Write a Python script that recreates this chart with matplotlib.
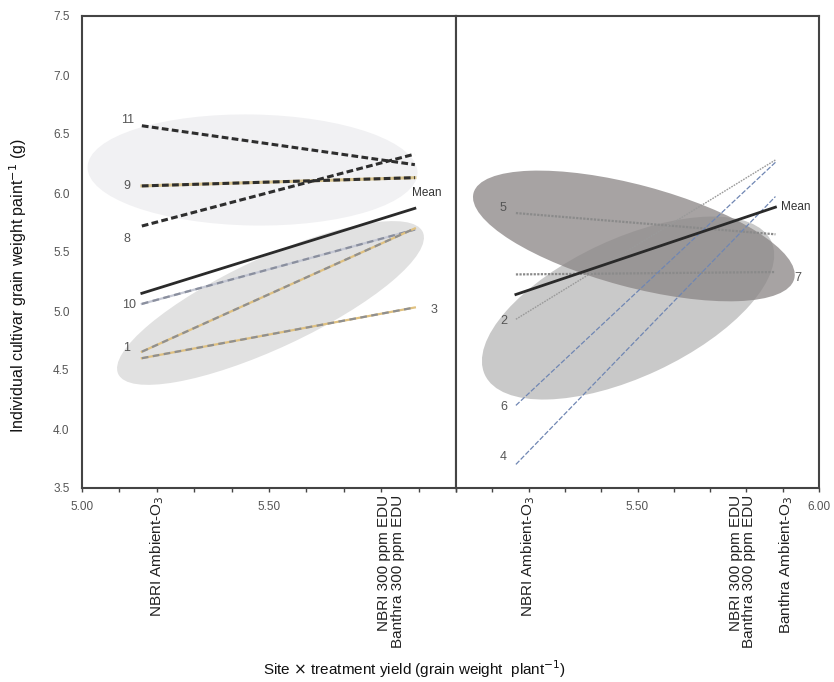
import matplotlib
matplotlib.use("Agg")
import matplotlib.pyplot as plt
import matplotlib.transforms as mtransforms
from matplotlib.patches import Ellipse
from matplotlib.ticker import MultipleLocator, FixedLocator, FixedFormatter

plt.rcParams['font.family'] = ['Liberation Sans', 'DejaVu Sans']

# x positions of the two treatment endpoints (site x treatment yield)
left_x = [5.16, 5.89]
right_x = [5.165, 5.88]

# left panel cultivars (ambient -> EDU)
left_c11 = [6.57, 6.24]
left_c9 = [6.06, 6.13]
left_c8 = [5.72, 6.33]
left_c10 = [5.06, 5.69]
left_c1 = [4.655, 5.70]
left_c3 = [4.60, 5.03]
left_mean = [5.15, 5.87]

# right panel cultivars
right_c5 = [5.83, 5.65]
right_c7 = [5.31, 5.33]
right_c2 = [4.93, 6.28]
right_c6 = [4.20, 6.26]
right_c4 = [3.70, 5.97]
right_mean = [5.14, 5.88]

y_ticks = [3.5, 4.0, 4.5, 5.0, 5.5, 6.0, 6.5, 7.0, 7.5]

left_cats = [5.20, 5.826]
left_cat_labels = ["NBRI Ambient-O$_3$", "NBRI 300 ppm EDU\nBanthra 300 ppm EDU"]
right_cats = [5.20, 5.79, 5.91]
right_cat_labels = ["NBRI Ambient-O$_3$", "NBRI 300 ppm EDU\nBanthra 300 ppm EDU",
                    "Banthra Ambient-O$_3$"]

fig = plt.figure(figsize=(8.34, 6.82), dpi=100)
ax1 = fig.add_axes([82/834, 1-488/682, 374/834, 472/682])
ax2 = fig.add_axes([456/834, 1-488/682, 363/834, 472/682])

spine_col = '#444444'
for ax in (ax1, ax2):
    ax.set_xlim(5.0, 6.0)
    ax.set_ylim(3.5, 7.5)
    for s in ax.spines.values():
        s.set_color(spine_col)
        s.set_linewidth(1.5)
    ax.xaxis.set_minor_locator(MultipleLocator(0.1))
    ax.tick_params(axis='x', which='both', direction='out', length=3, width=1,
                   color=spine_col, labelsize=8.5, labelcolor='#555555', pad=6)

ax1.xaxis.set_major_locator(FixedLocator([5.0, 5.5]))
ax1.xaxis.set_major_formatter(FixedFormatter(["5.00", "5.50"]))
ax2.xaxis.set_major_locator(FixedLocator([5.5, 6.0]))
ax2.xaxis.set_major_formatter(FixedFormatter(["5.50", "6.00"]))

ax1.set_yticks(y_ticks)
ax1.set_yticklabels([f"{v:.1f}" for v in y_ticks])
ax1.tick_params(axis='y', length=0, labelsize=8.5, labelcolor='#555555', pad=9)
ax2.set_yticks([])


def ellipse(ax, cx, cy, w_px, h_px, angle, color, alpha=1.0):
    # size in screen pixels, centred on a data point
    tr = fig.dpi_scale_trans + mtransforms.ScaledTranslation(cx, cy, ax.transData)
    e = Ellipse((0, 0), w_px / 100, h_px / 100, angle=angle, transform=tr,
                facecolor=color, edgecolor='none', alpha=alpha, zorder=1)
    ax.add_patch(e)


# shaded groups
ellipse(ax1, 5.456, 6.195, 330, 111, -1, '#f1f1f3')
ellipse(ax1, 5.504, 5.068, 336, 90, 25, '#e1e1e1')
ellipse(ax2, 5.474, 5.025, 316, 138, 25, '#c9c9c9')
ellipse(ax2, 5.49, 5.636, 332, 102, -15, '#8b8686', alpha=0.76)

# left panel lines
dash_dark = (0, (2.2, 1.1))
ax1.plot(left_x, left_c11, color='#2e2e2e', lw=2.2, ls=dash_dark, zorder=3)
ax1.plot(left_x, left_c9, color='#d8c38c', lw=2.2, zorder=3)
ax1.plot(left_x, left_c9, color='#2e2e2e', lw=2.2, ls=dash_dark, zorder=3)
ax1.plot(left_x, left_c8, color='#2e2e2e', lw=2.2, ls=dash_dark, zorder=3)
ax1.plot(left_x, left_c10, color='#c4c7d3', lw=1.6, zorder=3)
ax1.plot(left_x, left_c10, color='#8a8f9e', lw=1.6, ls=(0, (3, 2)), zorder=3)
for ys in (left_c1, left_c3):
    ax1.plot(left_x, ys, color='#e0c180', lw=1.6, zorder=3)
    ax1.plot(left_x, ys, color='#8f8f8f', lw=1.6, ls=(0, (3, 2)), zorder=3)
ax1.plot(left_x, left_mean, color='#2a2a2a', lw=2, zorder=4)

lab_kw = dict(textcoords='offset points', fontsize=9, color='#555555', va='center',
              ha='center')
ax1.annotate("11", (left_x[0], left_c11[0]), xytext=(-10, 4), **lab_kw)
ax1.annotate("9", (left_x[0], left_c9[0]), xytext=(-11, 0), **lab_kw)
ax1.annotate("8", (left_x[0], left_c8[0]), xytext=(-11, -9), **lab_kw)
ax1.annotate("10", (left_x[0], left_c10[0]), xytext=(-9, -1), **lab_kw)
ax1.annotate("1", (left_x[0], left_c1[0]), xytext=(-11, 3), **lab_kw)
ax1.annotate("3", (left_x[1], left_c3[1]), xytext=(14, -2), **lab_kw)
ax1.annotate("Mean", (left_x[1], left_mean[1]), xytext=(-2, 11), ha='left',
             textcoords='offset points', fontsize=8.5, color='#333333', va='center')

# right panel lines
ax2.plot(right_x, right_c5, color='#8a8a8a', lw=1.6, ls=(0, (1, 0.6)), zorder=3)
ax2.plot(right_x, right_c7, color='#8a8a8a', lw=1.6, ls=(0, (1, 0.6)), zorder=3)
ax2.plot(right_x, right_c2, color='#9a9a9a', lw=1.0, ls=(0, (1.2, 0.8)), zorder=3)
ax2.plot(right_x, right_c6, color='#6f86b3', lw=0.9, ls=(0, (4, 1.5)), zorder=3)
ax2.plot(right_x, right_c4, color='#6f86b3', lw=0.9, ls=(0, (4, 1.5)), zorder=3)
ax2.plot(right_x, right_mean, color='#2a2a2a', lw=2, zorder=4)

ax2.annotate("5", (right_x[0], right_c5[0]), xytext=(-9, 4), **lab_kw)
ax2.annotate("2", (right_x[0], right_c2[0]), xytext=(-9, -1), **lab_kw)
ax2.annotate("6", (right_x[0], right_c6[0]), xytext=(-9, -1.5), **lab_kw)
ax2.annotate("4", (right_x[0], right_c4[0]), xytext=(-9, 5), **lab_kw)
ax2.annotate("7", (right_x[1], right_c7[1]), xytext=(16, -4), **lab_kw)
ax2.annotate("Mean", (right_x[1], right_mean[1]), xytext=(4, 0), ha='left',
             textcoords='offset points', fontsize=8.5, color='#333333', va='center')

# category labels below the axes
for ax, xs, labs in ((ax1, left_cats, left_cat_labels), (ax2, right_cats, right_cat_labels)):
    tr = mtransforms.blended_transform_factory(ax.transData, ax.transAxes)
    for x, lab in zip(xs, labs):
        ax.text(x, -0.015, lab, transform=tr, rotation=90, ha='center', va='top',
                multialignment='right', fontsize=11, color='#222222',
                linespacing=0.95)

fig.text(18/834, 1-286/682, r"Individual cultivar grain weight paint$^{-1}$ (g)",
         rotation=90, ha='center', va='center', fontsize=11.5, color='#111111')
fig.text(415/834, 1-669/682, r"Site $\times$ treatment yield (grain weight  plant$^{-1}$)",
         ha='center', va='center', fontsize=11, color='#111111')

fig.savefig("out.png", dpi=100)
